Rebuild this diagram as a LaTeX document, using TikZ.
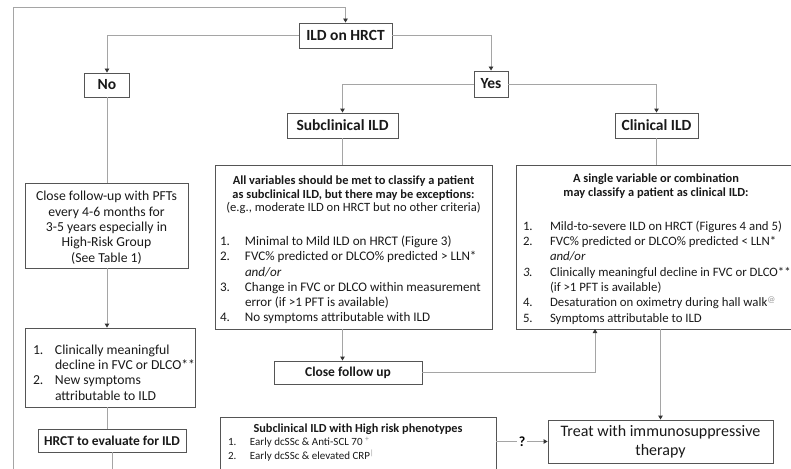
\documentclass[tikz,border=0pt]{standalone}
\usepackage{fontspec}
\setmainfont{Carlito}
\usetikzlibrary{arrows.meta}
\definecolor{linegray}{RGB}{165,165,165}
\definecolor{boxgray}{RGB}{85,85,85}
\definecolor{textdark}{RGB}{25,25,25}
\definecolor{notegray}{RGB}{150,150,150}
\newcommand{\hdrfont}{\fontsize{15.5}{18}\selectfont\bfseries}
\newcommand{\bodyfont}{\fontsize{13.7}{15.3}\selectfont}
\newcommand{\subfont}{\fontsize{13.1}{15.3}\selectfont}
\newcommand{\clinfont}{\fontsize{12.8}{15.3}\selectfont}
\newcommand{\titlefont}{\fontsize{12.4}{12.5}\selectfont}
\newcommand{\riskfont}{\fontsize{11}{15}\selectfont}
\newcommand{\note}[1]{\textsuperscript{\color{notegray}#1}}
\tikzset{
    common/.style={draw=boxgray, line width=0.9pt, rectangle, inner sep=0pt, text=textdark},
    header/.style={common, font=\hdrfont},
    textbox/.style={common, font=\bodyfont, align=center},
    boldbox/.style={common, font=\fontsize{13.5}{15}\selectfont\bfseries},
    flow/.style={draw=linegray, line width=0.9pt},
    arr/.style={flow, -{Triangle[length=4pt, width=4.5pt, color=black!80]}}
}

\begin{document}
\begin{tikzpicture}[x=1pt, y=-1pt]
    \useasboundingbox (0,0) rectangle (791,468);

    % top row
    \node[header, minimum width=93pt, minimum height=25pt] (ild) at (345.5,35.5) {ILD on HRCT};
    \node[header, minimum width=45pt, minimum height=24pt] (no) at (107,85) {No};
    \node[header, minimum width=34pt, minimum height=26pt] (yes) at (491,84) {Yes};
    \node[header, minimum width=111pt, minimum height=25pt] (subcl) at (342.5,125.5) {Subclinical ILD};
    \node[header, minimum width=83pt, minimum height=25pt] (clin) at (656.5,125.5) {Clinical ILD};

    % left column
    \node[textbox, minimum width=163pt, minimum height=85pt] (nofu) at (106.5,225.5)
        {\rule{0pt}{14pt}Close follow-up with PFTs\\ every 4-6 months for\\ 3-5 years especially in\\ High-Risk Group\\ (See Table 1)};
    \node[textbox, minimum width=170pt, minimum height=79pt] (nocrit) at (110,367.5)
        {\makebox[162pt][l]{\hspace{4pt}\begin{tabular}{@{}p{22pt}@{}l@{}}
            \rule{0pt}{24pt}1. & Clinically meaningful\\
               & decline in FVC or DLCO**\\
            2. & New symptoms\\
               & attributable to ILD
        \end{tabular}}};
    \node[boldbox, minimum width=148pt, minimum height=23pt] (hrct) at (112,440.5) {HRCT to evaluate for ILD};

    % criteria boxes
    \node[textbox, font=\subfont, minimum width=277pt, minimum height=164pt] (subbox) at (353.5,247)
        {\rule{0pt}{17.5pt}\titlefont\bfseries All variables should be met to classify a patient\\[-2pt]
         \titlefont\bfseries as subclinical ILD, but there may be exceptions:\\[-2pt]
         \fontsize{12.6}{12.5}\selectfont (e.g., moderate ILD on HRCT but no other criteria)\\[20pt]
         \makebox[267pt][l]{\begin{tabular}{@{}p{25pt}@{}l@{}}
            1. & Minimal to Mild ILD on HRCT (Figure 3)\\
            2. & FVC\% predicted or DLCO\% predicted > LLN*\\
               & \textit{and/or}\\
            3. & Change in FVC or DLCO within measurement\\
               & error (if >1 PFT is available)\\
            4. & No symptoms attributable with ILD
         \end{tabular}}};
    \node[textbox, font=\clinfont, minimum width=280pt, minimum height=164pt] (clinbox) at (656,247)
        {\rule{0pt}{15pt}\fontsize{12.4}{14}\selectfont\bfseries A single variable or combination\\[-1pt]
         \fontsize{12.4}{14}\selectfont\bfseries may classify a patient as clinical ILD:\\[20pt]
         \makebox[272pt][l]{\hspace{3pt}\begin{tabular}{@{}p{27pt}@{}l@{}}
            1. & Mild-to-severe  ILD on HRCT (Figures 4 and 5)\\
            2. & FVC\% predicted or DLCO\% predicted < LLN*\\
               & \textit{and/or}\\
            \textit{3.} & Clinically meaningful decline in FVC or DLCO**\\
               & (if >1 PFT is available)\\
            4. & Desaturation on oximetry during hall walk\note{@}\\
            5. & Symptoms attributable to ILD
         \end{tabular}}};

    % bottom row
    \node[boldbox, minimum width=148pt, minimum height=23pt] (closefu) at (348,372.5) {Close follow up};
    \node[common, font=\riskfont, align=center, minimum width=276pt, minimum height=54pt] (risk) at (358,444)
        {\fontsize{12.3}{14}\selectfont\bfseries Subclinical ILD with High risk phenotypes\\[-1pt]
         \riskfont\makebox[266pt][l]{\hspace{3pt}\begin{tabular}{@{}p{22pt}@{}l@{}}
            1. & Early dcSSc \& Anti-SCL 70 \note{+}\\[-1pt]
            2. & Early dcSSc \& elevated CRP\note{|}
         \end{tabular}}};
    \node[common, font=\fontsize{16}{19}\selectfont, align=center, minimum width=225pt, minimum height=43pt] (treat) at (660.5,441.5)
        {Treat with immunosuppressive\\ therapy};

    \coordinate (loopbot) at (13,490);
    \coordinate (looptop) at (13,7);
    \coordinate (clinup) at (595,329);

    % connectors
    \draw[arr] (hrct.south) |- (loopbot) |- (looptop) -| (ild.north);
    \draw[arr] (ild.west) -| (no.north);
    \draw[arr] (ild.east) -| (yes.north);
    \draw[arr] (yes.west) -| (subcl.north);
    \draw[arr] (yes.east) -| (clin.north);
    \draw[flow] (subcl.south) -- (subcl.south |- subbox.north);
    \draw[flow] (clin.south) -- (clin.south |- clinbox.north);
    \draw[flow] (no.south) -- (no.south |- nofu.north);
    \draw[arr] (no.south |- nofu.south) -- (no.south |- nocrit.north);
    \draw[flow] (no.south |- nocrit.south) -- (no.south |- hrct.north);
    \draw[arr] (subcl.south |- subbox.south) -- (subcl.south |- closefu.north);
    \draw[arr] (closefu.east) -| (clinup);
    \draw[arr] (treat.north |- clinbox.south) -- (treat.north);
    \draw[arr] (risk.east |- treat.west) -- node[fill=white, inner sep=2pt, font=\fontsize{14}{16}\selectfont\bfseries] (qmark) {?} (treat.west);
\end{tikzpicture}
\end{document}
